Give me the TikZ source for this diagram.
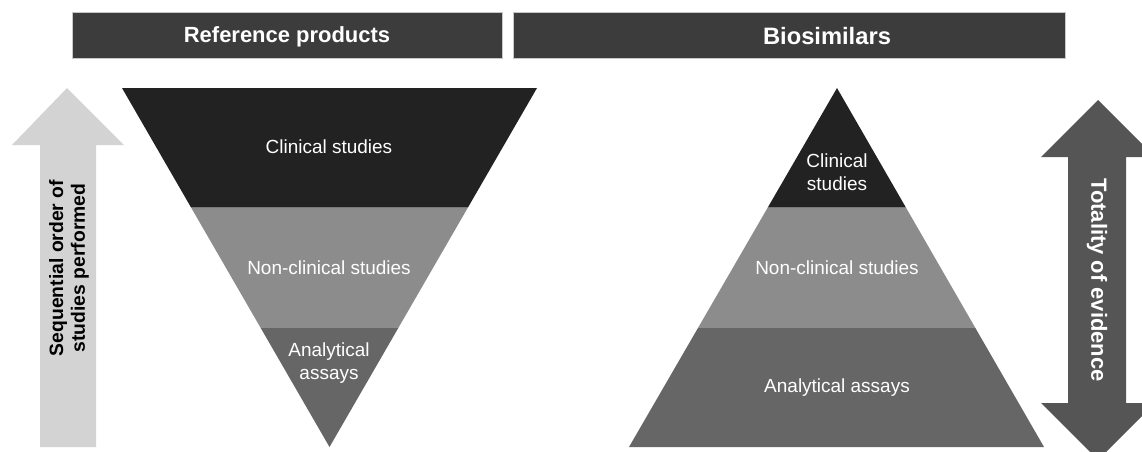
\documentclass[tikz,border=0pt]{standalone}
\usepackage{fontspec}
\setmainfont{Liberation Sans}
\usepackage{xcolor}
\usepackage{tikz}
\usetikzlibrary{calc}

\definecolor{barcol}{HTML}{3C3C3C}
\definecolor{barline}{HTML}{C8C8C8}
\definecolor{topcol}{HTML}{222222}
\definecolor{midcol}{HTML}{8C8C8C}
\definecolor{lowcol}{HTML}{666666}
\definecolor{seqcol}{HTML}{D3D3D3}
\definecolor{totcol}{HTML}{555555}

\tikzset{
  header/.style={text=white,font=\fontsize{12.5}{15}\selectfont\bfseries},
  layertext/.style={text=white,align=center,font=\fontsize{10.8}{13}\selectfont},
  arrowtext/.style={align=center,font=\fontsize{11}{12.5}\selectfont\bfseries}
}

\begin{document}
\begin{tikzpicture}[x=0.02cm,y=-0.02cm]
            \useasboundingbox (0,0) rectangle (1142,451);
            %%% COORDINATES %%%
            \coordinate (L1) at (122,88);
            \coordinate (L2) at (537,88);
            \coordinate (L3) at (329.5,447);
            \coordinate (R1) at (837,88);
            \coordinate (R2) at (629,447);
            \coordinate (R3) at (1044,447);

            %%% HEADERS %%%
            \filldraw[fill=barcol,draw=barline,line width=0.5pt] (72,12) rectangle (502,58);
            \node[header] (refhead) at (287,37) {Reference products};
            \filldraw[fill=barcol,draw=barline,line width=0.5pt] (513,12) rectangle (1065,58);
            \node[header,font=\fontsize{13.5}{15}\selectfont\bfseries] (biohead) at (827,36) {Biosimilars};

            %%% ARROWS %%%
            \fill[seqcol] (40,447)--(40,145)--(12,145)--(67,88)--(124,145)--(96,145)--(96,447)--cycle;
            \node[arrowtext,rotate=90] (seq) at (69,268) {Sequential order of\\studies performed};
            \fill[totcol] (1068,157)--(1041,157)--(1098,100)--(1155,157)--(1126,157)
                          --(1126,403)--(1155,403)--(1098,460)--(1041,403)--(1068,403)--cycle;
            \node[arrowtext,text=white,font=\fontsize{12.5}{15}\selectfont\bfseries,rotate=-90] (tot) at (1097,280) {Totality of evidence};

            %%% REFERENCE FUNNEL %%%
            \fill[topcol] (L1)--(L2)--($(L2)!1/3!(L3)$)--($(L1)!1/3!(L3)$)--cycle;
            \fill[midcol] ($(L1)!1/3!(L3)$)--($(L2)!1/3!(L3)$)--($(L2)!2/3!(L3)$)--($(L1)!2/3!(L3)$)--cycle;
            \fill[lowcol] ($(L1)!2/3!(L3)$)--($(L2)!2/3!(L3)$)--(L3)--cycle;
            \node[layertext] (refclin) at (329,147) {Clinical studies};
            \node[layertext] (refnon) at (329,268) {Non-clinical studies};
            \node[layertext] (refana) at (329,363) {Analytical\\assays};

            %%% BIOSIMILAR PYRAMID %%%
            \fill[topcol] (R1)--($(R1)!1/3!(R3)$)--($(R1)!1/3!(R2)$)--cycle;
            \fill[midcol] ($(R1)!1/3!(R2)$)--($(R1)!1/3!(R3)$)--($(R1)!2/3!(R3)$)--($(R1)!2/3!(R2)$)--cycle;
            \fill[lowcol] ($(R1)!2/3!(R2)$)--($(R1)!2/3!(R3)$)--(R3)--(R2)--cycle;
            \node[layertext] (bioclin) at (837,172) {Clinical\\studies};
            \node[layertext] (bionon) at (837,268) {Non-clinical studies};
            \node[layertext] (bioana) at (837,388) {Analytical assays};
        \end{tikzpicture}
\end{document}
